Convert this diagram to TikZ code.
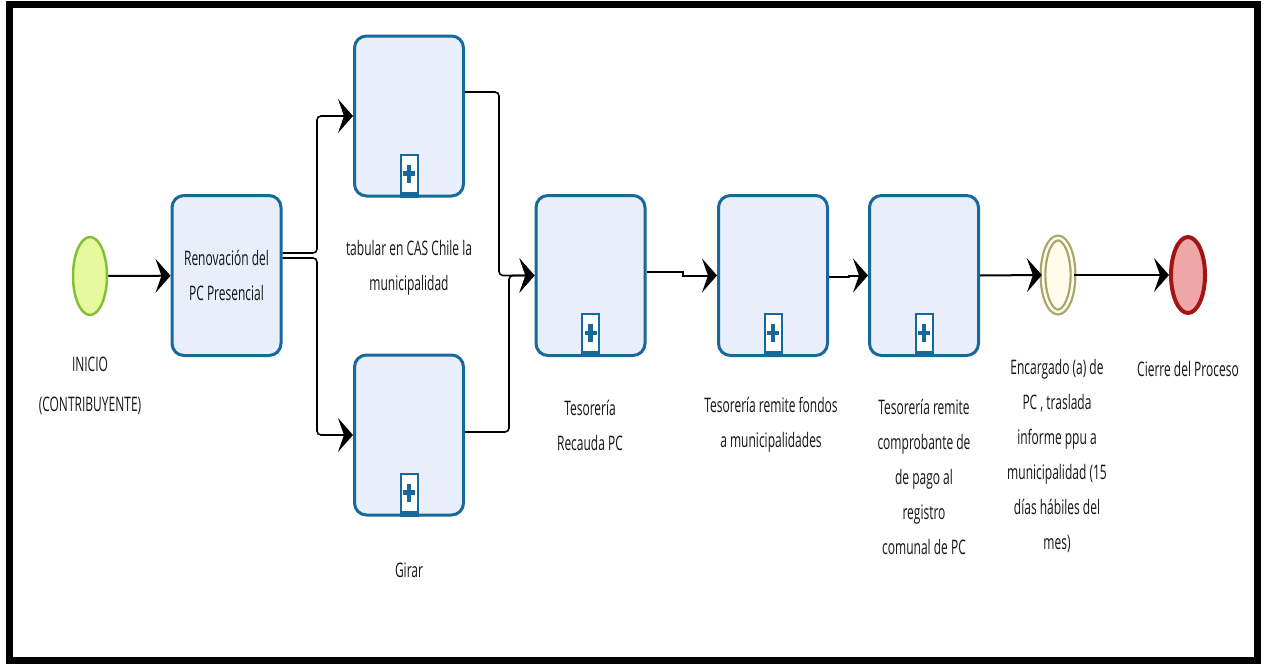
\documentclass[tikz,border=0pt]{standalone}
\usepackage{fontspec}
\setmainfont[FakeStretch=0.6]{Open Sans}
\usetikzlibrary{shapes.geometric,arrows.meta,calc}
\definecolor{taskfill}{HTML}{E9EEFB}
\definecolor{taskblue}{HTML}{17689B}
\definecolor{startfill}{HTML}{E6F99C}
\definecolor{startline}{HTML}{84BF3A}
\definecolor{interfill}{HTML}{FFFBEA}
\definecolor{interline}{HTML}{A8A46A}
\definecolor{endfill}{HTML}{EFA6A6}
\definecolor{endline}{HTML}{A31515}
\definecolor{txt}{HTML}{151515}
\begin{document}
\begin{tikzpicture}[x=1pt,y=-1pt,
  lbl/.style={font=\fontsize{20}{35}\selectfont, text=txt, align=center, inner sep=0pt},
  task/.style={lbl, draw=taskblue, line width=3pt, fill=taskfill, rounded corners=12pt,
    minimum width=109pt, minimum height=160pt},
  marker/.style={draw=taskblue, line width=2pt, fill=white, minimum width=17pt,
    minimum height=42pt, inner sep=0pt, anchor=south,
    path picture={
      \fill[taskblue] ([shift={(-2.2pt,-7pt)}]path picture bounding box.center) rectangle ([shift={(2.2pt,11pt)}]path picture bounding box.center);
      \fill[taskblue] ([shift={(-6pt,0pt)}]path picture bounding box.center) rectangle ([shift={(6pt,4.4pt)}]path picture bounding box.center);
      \fill[taskblue] (path picture bounding box.south west) rectangle ([yshift=5pt]path picture bounding box.south east);
    }},
  startev/.style={ellipse, draw=startline, line width=2.5pt, fill=startfill, minimum width=34pt, minimum height=78pt, inner sep=0pt},
  interev/.style={ellipse, draw=interline, double=interfill, double distance=2.5pt, line width=2.2pt, fill=interfill, minimum width=30pt, minimum height=74pt, inner sep=0pt},
  endev/.style={ellipse, draw=endline, line width=4pt, fill=endfill, minimum width=34pt, minimum height=76pt, inner sep=0pt},
  flow/.style={draw=black, line width=2pt, -{Stealth[length=15pt,width=34pt,inset=6pt]}},
  branch/.style={draw=black, line width=1.6pt, rounded corners=4pt, -{Stealth[length=15pt,width=34pt,inset=6pt]}},
  frame/.style={draw=black, line width=7pt}
]
\useasboundingbox (0,0) rectangle (1264,664);
\draw[frame] (9,4.5) rectangle (1257,660);

% events
\node[startev] (start) at (90,276) {};
\node[interev] (inter) at (1058,275) {};
\node[endev] (fin) at (1188,275) {};

% tasks
\node[task] (t1) at (226.5,275.5) {Renovación del\\PC Presencial};
\node[task] (up) at (409,116) {};
\node[task] (lo) at (409,435) {};
\node[task] (tes) at (590.5,275.5) {};
\node[task] (rem) at (773,275.5) {};
\node[task] (comp) at (924,275.5) {};

% markers
\node[marker] (mup) at (up.south) {};
\node[marker] (mlo) at (lo.south) {};
\node[marker] (mtes) at (tes.south) {};
\node[marker] (mrem) at (rem.south) {};
\node[marker] (mcomp) at (comp.south) {};

% labels
\node[lbl, font=\fontsize{20}{40}\selectfont] (lstart) at (90,386) {INICIO\\(CONTRIBUYENTE)};
\node[lbl] (lup) at (409,268) {tabular en CAS Chile la\\municipalidad};
\node[lbl] (llo) at (409,570) {Girar};
\node[lbl] (ltes) at (590,425) {Tesorería\\Recauda PC};
\node[lbl] (lrem) at (771,425) {Tesorería remite fondos\\a municipalidades};
\node[lbl] (lcomp) at (924,477) {Tesorería remite\\comprobante de\\de pago al\\registro\\comunal de PC};
\node[lbl] (linter) at (1057,456) {Encargado (a) de\\PC , traslada\\informe ppu a\\municipalidad (15\\días hábiles del\\mes)};
\node[lbl] (lfin) at (1188,369) {Cierre del Proceso};

% junction coordinates
\coordinate (j1) at (317,253);
\coordinate (j2) at (317,258);
\coordinate (j3) at (499,92);
\coordinate (j4) at (509,432);

% connectors
\draw[flow] (start) -- (t1);
\draw[branch] (t1.east |- j1) -- (j1) |- (up.west);
\draw[branch] (t1.east |- j2) -- (j2) |- (lo.west);
\draw[branch] (up.east |- j3) -- (j3) |- (tes.west);
\draw[branch] (lo.east |- j4) -- (j4) |- (tes.west);
\draw[flow] ([yshift=4pt]tes.east) -- ++(36,0) |- (rem.west);
\draw[flow] ([yshift=-1.5pt]rem.east) -- ++(20,0) |- (comp.west);
\draw[flow] (comp.east) -- (inter.west);
\draw[flow] (inter.east) -- (fin.west);
\end{tikzpicture}
\end{document}
